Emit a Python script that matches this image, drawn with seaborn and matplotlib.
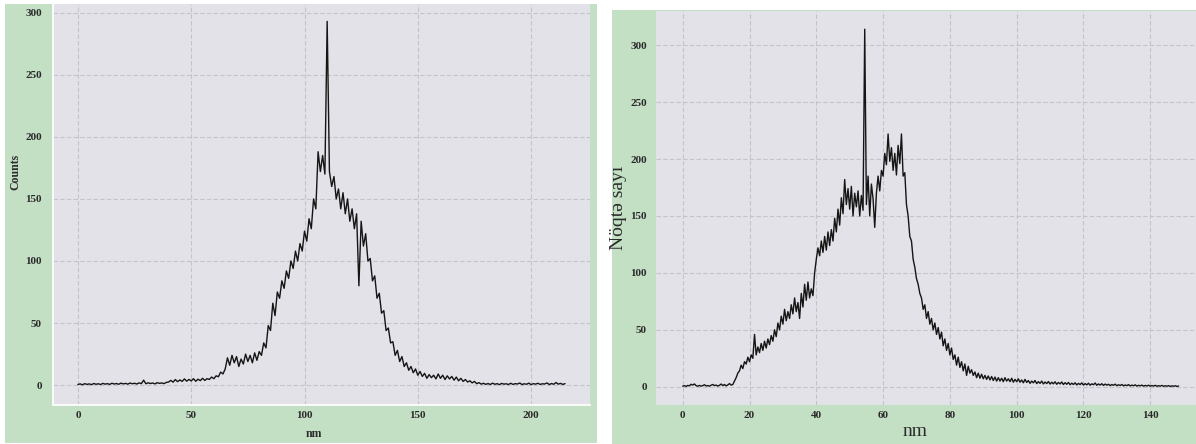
import numpy as np
import matplotlib.pyplot as plt
import seaborn as sns
from matplotlib.patches import Rectangle

# left panel: counts per 1 nm, 0..215 nm
left_counts = [
    0.5, 1, 0.3, 1.2, 0.6, 1, 0.4, 1.3, 0.7, 1.1,
    0.5, 1.4, 0.8, 1.2, 0.6, 1.5, 0.9, 1.3, 0.7, 1.6,
    1, 1.4, 0.8, 1.7, 1.1, 1.5, 0.9, 1.8, 1.2, 4,
    1.1, 1.9, 1.3, 1.7, 1, 2, 1.4, 1.8, 1.2, 2.2,
    2.5, 3.8, 2.4, 4.5, 2.8, 4.2, 3, 5, 3.2, 4.6,
    3.4, 5.2, 3.1, 4.8, 3.6, 5.5, 3.8, 5.2, 4.6, 6.5,
    5.2, 7.5, 6.8, 10.5, 9, 13, 22, 16, 24, 18,
    23, 15, 21, 17, 25, 19, 24, 18, 26, 20,
    27, 24, 34, 30, 48, 44, 66, 56, 75, 70,
    84, 78, 92, 86, 100, 94, 108, 100, 114, 108,
    124, 116, 134, 126, 150, 142, 188, 172, 185, 170,
    293, 172, 160, 168, 150, 158, 142, 155, 138, 150,
    132, 142, 126, 138, 80, 132, 112, 122, 100, 102,
    84, 88, 70, 74, 58, 60, 44, 46, 34, 35,
    24, 28, 19, 23, 15, 18, 12, 15, 10, 13,
    8, 11, 7, 9.5, 5.5, 8.5, 6, 8, 5, 9,
    5.5, 8, 4.5, 7.5, 5, 7, 4, 6.5, 3.5, 5.5,
    3, 4.5, 2.5, 3.5, 1.8, 3, 1.2, 2, 0.8, 1.5,
    0.6, 1.3, 0.5, 1.6, 0.7, 1.2, 0.4, 1.4, 0.8, 1.1,
    0.5, 1.5, 0.6, 1.2, 0.9, 1.7, 0.5, 1.1, 0.7, 1.6,
    0.4, 1.2, 0.8, 1.5, 0.6, 1.1, 0.9, 1.8, 0.5, 1.3,
    0.7, 2.1, 0.8, 1.4, 0.6, 1.2,
]

# right panel: counts per 0.5 nm, 0..148.5 nm
right_counts = [
    0.5, 1, 0.3, 1.2, 0.8, 2.2, 1.5, 2.5, 1, 0.5,
    1.2, 0.6, 1, 1.8, 0.7, 1.1, 0.5, 1.4, 2, 1,
    1.5, 0.6, 1.3, 2.4, 1, 2, 0.8, 1.6, 2.8, 1.5,
    2, 5, 8, 12, 14, 19, 16, 22, 20, 26,
    22, 28, 25, 46, 28, 35, 30, 38, 32, 40,
    34, 42, 37, 45, 40, 50, 44, 56, 50, 62,
    55, 68, 58, 66, 60, 72, 64, 78, 66, 74,
    60, 82, 70, 90, 76, 92, 78, 86, 80, 100,
    112, 122, 115, 128, 118, 132, 120, 136, 124, 138,
    128, 148, 136, 156, 142, 166, 152, 182, 160, 174,
    156, 176, 150, 170, 158, 172, 150, 168, 155, 314,
    160, 185, 150, 178, 165, 140, 170, 185, 172, 190,
    185, 205, 195, 222, 198, 210, 190, 205, 186, 212,
    196, 222, 185, 188, 160, 150, 132, 128, 112, 105,
    95, 90, 82, 78, 68, 72, 60, 66, 55, 60,
    50, 56, 46, 52, 42, 48, 36, 42, 32, 38,
    28, 34, 24, 28, 19, 26, 17, 22, 14, 20,
    10, 18, 12, 15, 10, 13, 8, 12, 7.5, 11,
    7, 10, 6.5, 9.5, 6, 9, 5.5, 8.5, 5, 8,
    5, 7.5, 4.5, 8, 5, 7, 4.5, 7.5, 4, 6.5,
    4.5, 7, 4, 6, 3.5, 6.5, 3.8, 5.5, 3, 5,
    3.5, 5.5, 2.8, 4.5, 3, 5, 2.5, 4.2, 2.8, 4.6,
    2.4, 4, 2.6, 4.4, 2.2, 3.8, 2.5, 4.2, 2, 3.6,
    2.2, 3.8, 1.8, 3.2, 2, 3.5, 1.6, 3, 1.9, 3.4,
    1.5, 2.8, 1.7, 3.1, 1.4, 2.6, 1.8, 3.3, 1.3, 2.5,
    1.5, 2.7, 1.2, 2.4, 1.4, 2.2, 1, 2, 1.3, 2.3,
    0.9, 1.8, 1.1, 2, 0.8, 1.6, 1, 1.9, 0.7, 1.5,
    0.9, 1.7, 0.6, 1.3, 0.8, 1.5, 0.5, 1.2, 0.7, 1.4,
    0.5, 1.1, 0.6, 1.3, 0.4, 1, 0.6, 1.2, 0.4, 0.9,
    0.5, 1, 0.3, 0.8, 0.5, 0.9, 0.3, 0.7,
]

left_nm = np.arange(len(left_counts)) * 1.0
right_nm = np.arange(len(right_counts)) * 0.5

left_xticks = [0, 50, 100, 150, 200]
right_xticks = [0, 20, 40, 60, 80, 100, 120, 140]
yticks = [0, 50, 100, 150, 200, 250, 300]

GREEN = '#c3dfc4'
PANEL = '#e2e2e8'
GRID = '#c3c3cb'
TXT = '#2b2b2b'
serif = ['Liberation Serif', 'DejaVu Serif']

sns.set_theme(style='darkgrid')
plt.rcParams['font.family'] = serif

fig = plt.figure(figsize=(11.96, 4.44), dpi=100)
fig.patch.set_facecolor('white')

W, H = 1196, 444


def px_rect(x0, y0, x1, y1):
    return [x0 / W, 1 - y1 / H, (x1 - x0) / W, (y1 - y0) / H]


# green frames behind each plot
for r in (px_rect(5, 4, 597, 443), px_rect(612, 10, 1196, 444)):
    fig.patches.append(Rectangle((r[0], r[1]), r[2], r[3], transform=fig.transFigure,
                                 facecolor=GREEN, edgecolor='none', zorder=-10))

ax1 = fig.add_axes(px_rect(53, 4, 590, 405))
ax2 = fig.add_axes(px_rect(656, 11, 1196, 405))
ax1.set_zorder(5)
ax2.set_zorder(5)

sns.lineplot(x=left_nm, y=left_counts, ax=ax1, color='#151515', lw=1.0)
sns.lineplot(x=right_nm, y=right_counts, ax=ax2, color='#151515', lw=1.0)

ax1.set_xlim(-11, 226)
ax1.set_ylim(-16, 307)
ax2.set_xlim(-8, 153.7)
ax2.set_ylim(-16, 330)

for ax, xt, ypad in ((ax1, left_xticks, 8), (ax2, right_xticks, 6.5)):
    ax.set_facecolor(PANEL)
    ax.set_xticks(xt)
    ax.set_yticks(yticks)
    ax.grid(True, color=GRID, lw=0.8, ls=(0, (4, 2)))
    ax.tick_params(length=0, labelsize=8, labelcolor=TXT)
    ax.tick_params(axis='y', pad=ypad)
    ax.tick_params(axis='x', pad=4)
    for lab in ax.get_xticklabels() + ax.get_yticklabels():
        lab.set_fontweight('bold')
    for s in ax.spines.values():
        s.set_visible(False)

ax1.spines['left'].set_visible(True)
ax1.spines['bottom'].set_visible(True)
ax1.spines['left'].set_color('white')
ax1.spines['bottom'].set_color('white')

ax1.set_xlabel('nm', fontsize=8.5, fontweight='bold', color=TXT)
ax1.set_ylabel('Counts', fontsize=8.5, fontweight='bold', color=TXT)
ax1.xaxis.set_label_coords(0.485, -0.057)
ax1.yaxis.set_label_coords(-0.058, 0.58)

ax2.set_xlabel('nm', fontsize=14, color=TXT)
ax2.set_ylabel('Nöqtə sayı', fontsize=14, color=TXT)
ax2.xaxis.set_label_coords(0.48, -0.045)
ax2.yaxis.set_label_coords(-0.054, 0.5)

fig.savefig('out.png', dpi=100)
